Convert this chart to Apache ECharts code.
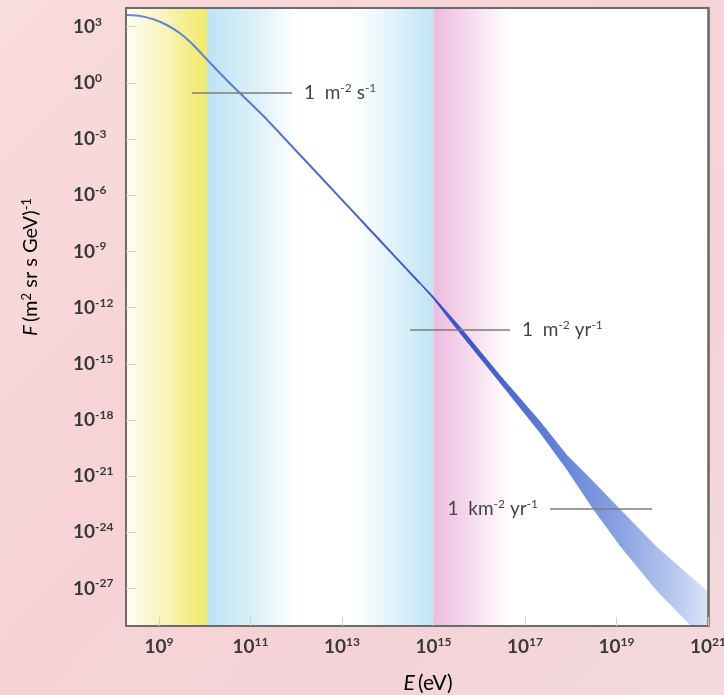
<!DOCTYPE html>
<html><head><meta charset="utf-8">
<script src="https://cdn.jsdelivr.net/npm/echarts@6/dist/echarts.min.js"></script>
<style>html,body{margin:0;padding:0;width:724px;height:695px;overflow:hidden;}#c{width:724px;height:695px;}</style>
</head><body><div id="c"></div>
<script>
// All values are log10: E in eV, F in (m^2 sr s GeV)^-1
const curveLogE = [8.295, 8.586, 8.877, 9.170, 9.460, 9.751, 10.044, 10.334, 10.699, 11.062, 11.355, 11.864, 12.520, 13.176, 13.831, 14.487, 14.706];
const curveLogF = [3.626, 3.573, 3.397, 3.092, 2.649, 2.024, 1.261, 0.513, -0.379, -1.233, -1.944, -3.273, -4.987, -6.701, -8.415, -10.130, -10.701];
const bandLogE  = [14.706, 14.99, 15.58, 16.454, 17.328, 17.918, 18.486, 19.076, 19.885, 20.606, 21.0];
const bandUpper = [-10.647, -11.363, -13.007, -15.597, -18.054, -19.869, -21.258, -22.753, -24.782, -26.330, -27.132];
const bandLower = [-10.754, -11.523, -13.381, -16.025, -18.695, -20.670, -22.753, -24.729, -27.13, -28.947, -29.962];
const xTicks = [9, 11, 13, 15, 17, 19, 21];
const yTicks = [3, 0, -3, -6, -9, -12, -15, -18, -21, -24, -27];
const xRange = [8.28, 21];
const yRange = [-29, 4];
const regionFrom = [8.28, 10.05, 13.285, 15.0];
const regionTo   = [10.05, 12.0, 15.0, 16.67];
const annLogF = [-0.539, -13.194, -22.753];
const annFrom = [9.722, 14.487, 17.547];
const annTo   = [11.908, 16.673, 19.776];
const annText = ['{t|1  m}{s|-2}{t| s}{s|-1}', '{t|1  m}{s|-2}{t| yr}{s|-1}', '{t|1  km}{s|-2}{t| yr}{s|-1}'];
const annSide = ['end', 'end', 'start'];

const G = echarts.graphic;
const regionColors = [
  new G.LinearGradient(0,0,1,0,[{offset:0,color:'#fffdf3'},{offset:0.5,color:'#f8f3b6'},{offset:1,color:'#f1ea66'}]),
  new G.LinearGradient(0,0,1,0,[{offset:0,color:'#bde3f4'},{offset:0.55,color:'#dcf0f9'},{offset:1,color:'#ffffff'}]),
  new G.LinearGradient(0,0,1,0,[{offset:0,color:'#ffffff'},{offset:0.5,color:'#e0f2fa'},{offset:1,color:'#c0e4f4'}]),
  new G.LinearGradient(0,0,1,0,[{offset:0,color:'#ebbcdf'},{offset:0.5,color:'#f6dcee'},{offset:1,color:'#ffffff'}])
];

const labelFont = 'Lato';
const rich = {
  b: {fontFamily: labelFont, fontSize: 19, fontWeight: 'bold', color: '#383838', lineHeight: 22, verticalAlign: 'middle'},
  s: {fontFamily: labelFont, fontSize: 12, fontWeight: 'bold', color: '#383838', lineHeight: 12, verticalAlign: 'top'}
};
const annRich = {
  t: {fontFamily: labelFont, fontSize: 19, color: '#444', lineHeight: 22, verticalAlign: 'middle'},
  s: {fontFamily: labelFont, fontSize: 12, color: '#444', lineHeight: 12, verticalAlign: 'top'}
};
function powLabel(v) {
  const n = Math.round(v);
  return '{b|10}{s|' + (n < 0 ? '-' + (-n) : n) + '}';
}

const chart = echarts.init(document.getElementById('c'), null, {renderer: 'canvas'});
chart.setOption({
  animation: false,
  backgroundColor: new G.LinearGradient(0,0,1,1,[
    {offset:0,color:'#f9dcdc'},{offset:0.45,color:'#f6d2d5'},{offset:0.75,color:'#f3d3d8'},{offset:1,color:'#f4dadd'}]),
  grid: {left: 126, right: 16, top: 8, bottom: 69, show: true, backgroundColor: '#ffffff', borderWidth: 0, containLabel: false, outerBoundsMode: 'none'},
  xAxis: [{
    type: 'value', min: xRange[0], max: xRange[1], position: 'bottom', z: 10,
    axisLine: {show: true, onZero: false, lineStyle: {color: '#6b6b6b', width: 2}},
    axisTick: {show: true, inside: true, length: 9, customValues: xTicks, lineStyle: {color: '#cfcfcf', width: 1}},
    axisLabel: {customValues: xTicks, formatter: powLabel, rich: rich, margin: 10},
    splitLine: {show: false}
  }, {
    type: 'value', min: xRange[0], max: xRange[1], position: 'top', z: 10,
    axisLine: {show: true, onZero: false, lineStyle: {color: '#6b6b6b', width: 2}},
    axisTick: {show: false}, axisLabel: {show: false}, splitLine: {show: false}
  }],
  yAxis: [{
    type: 'value', min: yRange[0], max: yRange[1], position: 'left', z: 10,
    axisLine: {show: true, onZero: false, lineStyle: {color: '#6b6b6b', width: 2}},
    axisTick: {show: true, inside: true, length: 10, customValues: yTicks, lineStyle: {color: '#d4d4d4', width: 1}},
    axisLabel: {customValues: yTicks, formatter: powLabel, rich: rich, align: 'left', margin: 53},
    splitLine: {show: false}
  }, {
    type: 'value', min: yRange[0], max: yRange[1], position: 'right', z: 10,
    axisLine: {show: true, onZero: false, lineStyle: {color: '#676767', width: 2.5}},
    axisTick: {show: false}, axisLabel: {show: false}, splitLine: {show: false}
  }],
  graphic: [{
    type: 'text', x: 31, y: 267, rotation: Math.PI / 2, z: 20,
    style: {
      text: '{i|F} {t|(m}{s|2}{t| sr s GeV)}{s|-1}',
      align: 'center', verticalAlign: 'middle',
      rich: {
        i: {fontFamily: labelFont, fontSize: 20, fontStyle: 'italic', color: '#3a3a3a', lineHeight: 22, verticalAlign: 'middle'},
        t: {fontFamily: labelFont, fontSize: 20, color: '#3a3a3a', lineHeight: 22, verticalAlign: 'middle'},
        s: {fontFamily: labelFont, fontSize: 13, color: '#3a3a3a', lineHeight: 12, verticalAlign: 'top'}
      }
    }
  }, {
    type: 'text', x: 428, y: 683, z: 20,
    style: {
      text: '{i|E} {t|(eV)}', align: 'center', verticalAlign: 'middle',
      rich: {
        i: {fontFamily: labelFont, fontSize: 21, fontStyle: 'italic', color: '#3a3a3a'},
        t: {fontFamily: labelFont, fontSize: 21, color: '#3a3a3a'}
      }
    }
  }],
  series: [{
    type: 'line', name: 'regions', data: [], silent: true, z: 1,
    markArea: {
      silent: true,
      data: regionFrom.map((a, i) => [{xAxis: a, itemStyle: {color: regionColors[i]}}, {xAxis: regionTo[i]}])
    }
  }, {
    type: 'custom', name: 'band', z: 3, silent: true,
    data: [0],
    renderItem: function (params, api) {
      const pts = [];
      for (let i = 0; i < bandLogE.length; i++) pts.push(api.coord([bandLogE[i], bandUpper[i]]));
      for (let i = bandLogE.length - 1; i >= 0; i--) pts.push(api.coord([bandLogE[i], bandLower[i]]));
      const cs = params.coordSys;
      return {
        type: 'polygon',
        shape: {points: pts},
        style: {fill: new G.LinearGradient(0,0,1,0,[
          {offset:0,color:'#3752c6'},{offset:0.2,color:'#3d5bca'},{offset:0.45,color:'#5f7fd6'},
          {offset:0.7,color:'#8aa3e2'},{offset:0.9,color:'#bccbef'},{offset:1,color:'#dce4f6'}])},
        clipPath: {type: 'rect', shape: {x: cs.x, y: cs.y, width: cs.width, height: cs.height}}
      };
    }
  }, {
    type: 'line', name: 'flux', z: 4, silent: true,
    data: curveLogE.map((e, i) => [e, curveLogF[i]]),
    smooth: 0.15, showSymbol: false, symbol: 'none',
    lineStyle: {width: 2, color: new G.LinearGradient(0,0,1,0,[
      {offset:0,color:'#6c88da'},{offset:0.5,color:'#5874d4'},{offset:1,color:'#3a55c8'}])},
    markLine: {
      silent: true, symbol: ['none', 'none'],
      lineStyle: {color: '#7c7c7c', width: 1.5, type: 'solid'},
      data: annLogF.map((f, i) => [
        {coord: [annFrom[i], f], label: {show: true, position: annSide[i], distance: 12, formatter: annText[i], rich: annRich}},
        {coord: [annTo[i], f]}
      ])
    }
  }]
});
</script></body></html>
